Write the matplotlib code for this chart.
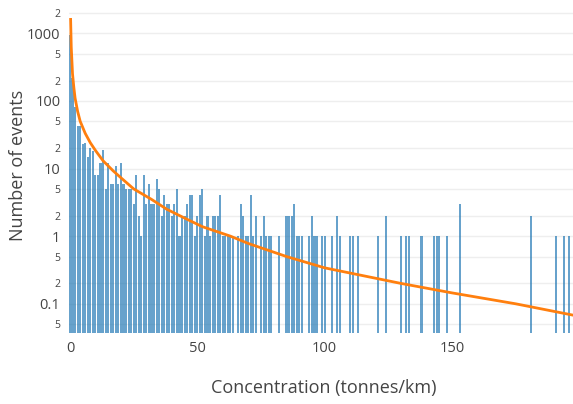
import matplotlib
matplotlib.use('Agg')
import matplotlib.pyplot as plt
import numpy as np

plt.rcParams['font.family'] = ['Open Sans', 'DejaVu Sans']

# Histogram of concentrations, one bin per tonne/km (only non-empty bins)
bin_centers = [0, 1, 2, 3, 4, 5, 6, 7, 8, 9,
               10, 11, 12, 13, 14, 15, 16, 17, 18, 19,
               20, 21, 22, 23, 24, 25, 26, 27, 28, 29,
               30, 31, 32, 33, 34, 35, 36, 37, 38, 39,
               40, 41, 42, 43, 44, 45, 46, 47, 48, 49,
               50, 51, 52, 53, 54, 55, 56, 57, 58, 59,
               60, 61, 62, 63, 64, 66, 67, 68, 69, 70,
               71, 72, 73, 75, 76, 77, 78, 79, 82, 85,
               86, 87, 88, 89, 90, 91, 94, 95, 96, 97,
               99, 100, 103, 105, 106, 110, 111, 113, 121, 124,
               130, 132, 133, 138, 143, 144, 145, 148, 153, 181,
               191, 194, 196]
counts = [950, 220, 80, 43, 43, 23, 24, 15, 20, 18,
          8, 8, 12, 19, 5, 12, 6, 6, 11, 6,
          12, 6, 5, 5, 5, 3, 8, 2, 1, 8,
          3, 6, 3, 3, 7, 5, 2, 4, 3, 3,
          2, 3, 5, 1, 2, 2, 3, 4, 4, 1,
          2, 4, 5, 1, 2, 1, 2, 2, 2, 4,
          1, 1, 1, 1, 1, 1, 3, 2, 1, 1,
          4, 1, 2, 1, 2, 1, 1, 1, 1, 2,
          2, 2, 3, 1, 1, 1, 1, 2, 1, 1,
          1, 1, 1, 2, 1, 1, 1, 1, 1, 2,
          1, 1, 1, 1, 1, 1, 1, 1, 3, 2,
          1, 1, 1]

# Fitted distribution curve
fit_x = [0.25, 0.5, 1, 1.5, 2, 3, 4, 6, 8, 10, 13, 17, 20, 25, 32, 38, 45,
         52, 63, 70, 85, 100, 130, 150, 175, 197.5]
fit_y = [1600, 620, 250, 160, 110, 70, 50, 33, 24, 18.5, 13, 9.2, 7.3, 5.0,
         3.5, 2.5, 1.85, 1.38, 1.0, 0.78, 0.5, 0.34, 0.2, 0.145, 0.1, 0.068]

xticks = [0, 50, 100, 150]
ytick_vals = [0.05, 0.1, 0.2, 0.5, 1, 2, 5, 10, 20, 50, 100, 200, 500, 1000, 2000]
ytick_text = ['5', '0.1', '2', '5', '1', '2', '5', '10', '2', '5', '100', '2', '5', '1000', '2']

fig = plt.figure(figsize=(5.73, 4.04), dpi=100)
ax = fig.add_axes([0.1199, 0.1757, 0.8801, 0.8143])

ax.bar(bin_centers, counts, width=0.82, color='#1f77b4', alpha=0.68, linewidth=0)
ax.plot(fit_x, fit_y, color='#ff7f0e', linewidth=2)

ax.set_yscale('log')
ax.set_xlim(-0.5, 197.5)
ax.set_ylim(0.037, 2700)

ax.set_xticks(xticks)
ax.set_xticklabels([str(t) for t in xticks], fontsize=10.5, color='#444444')
ax.set_yticks(ytick_vals)
ax.set_yticklabels(ytick_text, color='#444444')
ax.yaxis.set_minor_locator(matplotlib.ticker.NullLocator())
for lbl, txt in zip(ax.get_yticklabels(), ytick_text):
    lbl.set_fontsize(10.5 if len(txt) > 1 or txt == '1' else 7.5)
ax.tick_params(axis='both', length=0, pad=6)

ax.grid(axis='y', color='#eeeeee', linewidth=1)
ax.set_axisbelow(True)
for s in ax.spines.values():
    s.set_visible(False)

fig.text(0.565, 0.04, 'Concentration (tonnes/km)', ha='center', va='center',
         fontsize=13, color='#444444')
fig.text(0.031, 0.59, 'Number of events', ha='center', va='center',
         rotation=90, fontsize=13, color='#444444')

plt.savefig('out.png', dpi=100)
